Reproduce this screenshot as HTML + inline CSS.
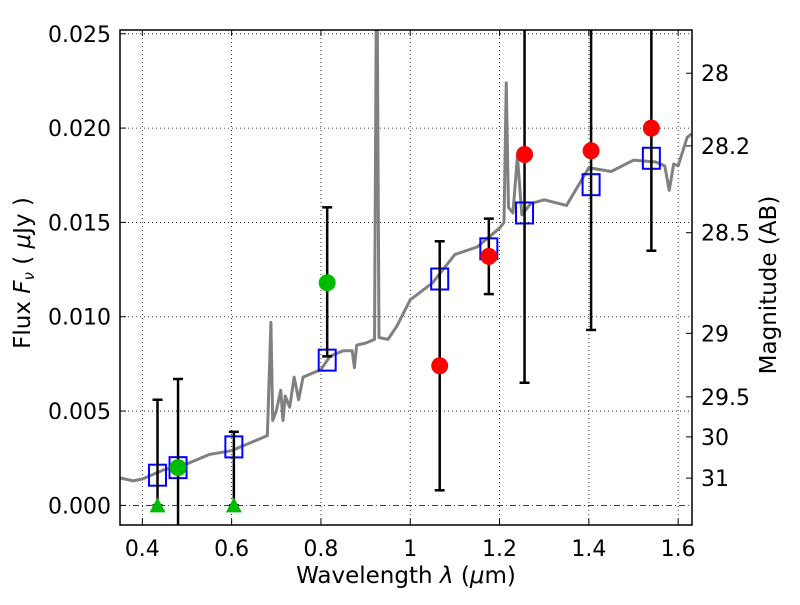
<!DOCTYPE html>
<html><head><meta charset="utf-8"><style>
body{margin:0;background:#fff;width:800px;height:600px;overflow:hidden}
svg text{font-family:"DejaVu Sans","Liberation Sans",sans-serif;fill:#000}
</style></head><body>
<svg id="chart" width="800" height="600"></svg>
<script>
const specWave=[0.35,0.38,0.40,0.45,0.50,0.55,0.60,0.65,0.68,0.688,0.692,0.70,0.71,0.715,0.72,0.73,0.74,0.75,0.76,0.78,0.80,0.82,0.85,0.87,0.875,0.88,0.90,0.92,0.924,0.926,0.93,0.95,0.97,1.0,1.05,1.1,1.15,1.2,1.21,1.215,1.22,1.23,1.24,1.25,1.27,1.3,1.35,1.4,1.45,1.5,1.55,1.57,1.58,1.59,1.6,1.62,1.63];
const specFlux=[0.00145,0.0013,0.0014,0.0019,0.0022,0.0027,0.0029,0.0034,0.0037,0.0097,0.0045,0.0050,0.0061,0.0045,0.0058,0.0052,0.0068,0.0056,0.0068,0.0070,0.0072,0.0079,0.0082,0.0082,0.0073,0.0085,0.0086,0.0088,0.0265,0.0265,0.0089,0.0088,0.0095,0.0109,0.0118,0.0133,0.0137,0.0147,0.0150,0.0224,0.0158,0.0155,0.0185,0.0154,0.0160,0.0162,0.0159,0.0179,0.0177,0.0183,0.0182,0.0180,0.0167,0.0181,0.0180,0.0195,0.0197];
const modelWave=[0.434,0.48,0.605,0.814,1.066,1.176,1.256,1.405,1.54];
const modelFlux=[0.0016,0.0020,0.0031,0.0077,0.0120,0.0136,0.0155,0.0170,0.0184];
const greenWave=[0.48,0.814];
const greenFlux=[0.0020,0.0118];
const greenLo=[-0.005,0.0079];
const greenHi=[0.0067,0.0158];
const limWave=[0.434,0.605];
const limHi=[0.0056,0.0039];
const redWave=[1.066,1.176,1.256,1.405,1.54];
const redFlux=[0.0074,0.0132,0.0186,0.0188,0.0200];
const redLo=[0.0008,0.0112,0.0065,0.0093,0.0135];
const redHi=[0.0140,0.0152,0.03,0.03,0.03];
const xTicks=[0.4,0.6,0.8,1.0,1.2,1.4,1.6];
const xTickLabels=["0.4","0.6","0.8","1","1.2","1.4","1.6"];
const yTicks=[0,0.005,0.01,0.015,0.02,0.025];
const yTickLabels=["0.000","0.005","0.010","0.015","0.020","0.025"];
const magTicks=[28,28.2,28.5,29,29.5,30,31];

const L=120,R=692,T=30,B=525,X0=0.35,X1=1.631,Y0=-0.00104,Y1=0.0252;
const sx=v=>L+(v-X0)/(X1-X0)*(R-L);
const sy=v=>B-(v-Y0)/(Y1-Y0)*(B-T);
const svg=document.getElementById('chart');
const NS='http://www.w3.org/2000/svg';
function mk(tag,attrs,parent){const e=document.createElementNS(NS,tag);for(const k in attrs)e.setAttribute(k,attrs[k]);(parent||svg).appendChild(e);return e;}
const defs=mk('defs',{});const cp=mk('clipPath',{id:'cp'},defs);mk('rect',{x:L,y:T,width:R-L,height:B-T},cp);
const plot=mk('g',{'clip-path':'url(#cp)'});


xTicks.forEach(v=>{const g=mk('line',{x1:sx(v),x2:sx(v),y1:T,y2:B,stroke:'#000','stroke-width':0.8,'stroke-dasharray':'1,3'},plot);

});
yTicks.forEach(v=>{const g=mk('line',{x1:L,x2:R,y1:sy(v),y2:sy(v),stroke:'#000','stroke-width':0.8,'stroke-dasharray':v===0?'6,3,1,3':'1,3'},plot);

});
const sp=mk('polyline',{points:specWave.map((w,i)=>sx(w)+','+sy(specFlux[i])).join(' '),fill:'none',stroke:'#808080','stroke-width':3,'stroke-linejoin':'round'},plot);


function errbar(x,lo,hi,name){const g=mk('g',{stroke:'#000','stroke-width':2.5},plot);


mk('line',{x1:sx(x),x2:sx(x),y1:sy(lo),y2:sy(hi)},g);
mk('line',{x1:sx(x)-5,x2:sx(x)+5,y1:sy(lo),y2:sy(lo)},g);
mk('line',{x1:sx(x)-5,x2:sx(x)+5,y1:sy(hi),y2:sy(hi)},g);}
modelWave.forEach((w,i)=>{const r=mk('rect',{x:sx(w)-8.5,y:sy(modelFlux[i])-10.5,width:17,height:21,fill:'none',stroke:'#0000ff','stroke-width':2},plot);

});
limWave.forEach((w,i)=>{errbar(w,0,limHi[i],'upper-limit-errorbar');
const t=mk('polygon',{points:`${sx(w)-8},${sy(0)+7} ${sx(w)+8},${sy(0)+7} ${sx(w)},${sy(0)-8}`,fill:'#00bb00'},plot);

});
greenWave.forEach((w,i)=>{errbar(w,greenLo[i],greenHi[i],'green-errorbar');
const c=mk('circle',{cx:sx(w),cy:sy(greenFlux[i]),r:8.5,fill:'#00bb00'},plot);

});
redWave.forEach((w,i)=>{errbar(w,redLo[i],redHi[i],'red-errorbar');
const c=mk('circle',{cx:sx(w),cy:sy(redFlux[i]),r:8.5,fill:'#ff0000'},plot);

});
const fr=mk('rect',{x:L,y:T,width:R-L,height:B-T,fill:'none',stroke:'#000','stroke-width':1.5});


xTicks.forEach((v,i)=>{mk('line',{x1:sx(v),x2:sx(v),y1:B,y2:B-6,stroke:'#000'});mk('line',{x1:sx(v),x2:sx(v),y1:T,y2:T+6,stroke:'#000'});
const t=mk('text',{x:sx(v),y:B+31,'font-size':22,'text-anchor':'middle'});t.textContent=xTickLabels[i];

});
yTicks.forEach((v,i)=>{mk('line',{x1:L,x2:L+6,y1:sy(v),y2:sy(v),stroke:'#000'});
const t=mk('text',{x:L-9,y:sy(v)+8,'font-size':22,'text-anchor':'end'});t.textContent=yTickLabels[i];

});
magTicks.forEach(m=>{const f=Math.pow(10,-0.4*(m-23.9));const y=sy(f);
mk('line',{x1:R,x2:R-6,y1:y,y2:y,stroke:'#000'});
const t=mk('text',{x:R+9,y:y+8,'font-size':22});t.textContent=String(m);

});
const xl=mk('text',{x:406,y:583,'font-size':23,'text-anchor':'middle'});xl.innerHTML='Wavelength  <tspan font-style="italic">λ</tspan> (<tspan font-style="italic">μ</tspan>m)';


const yl=mk('text',{x:0,y:0,'font-size':23,'text-anchor':'middle',transform:'translate(30,273) rotate(-90)'});yl.innerHTML='Flux  <tspan font-style="italic">F</tspan><tspan font-style="italic" font-size="15" dy="4">ν</tspan><tspan dy="-4">   ( </tspan><tspan font-style="italic">μ</tspan>Jy )';


const rl=mk('text',{x:0,y:0,'font-size':23,'text-anchor':'middle',transform:'translate(776,285) rotate(-90)'});rl.textContent='Magnitude (AB)';


</script>
</body></html>
